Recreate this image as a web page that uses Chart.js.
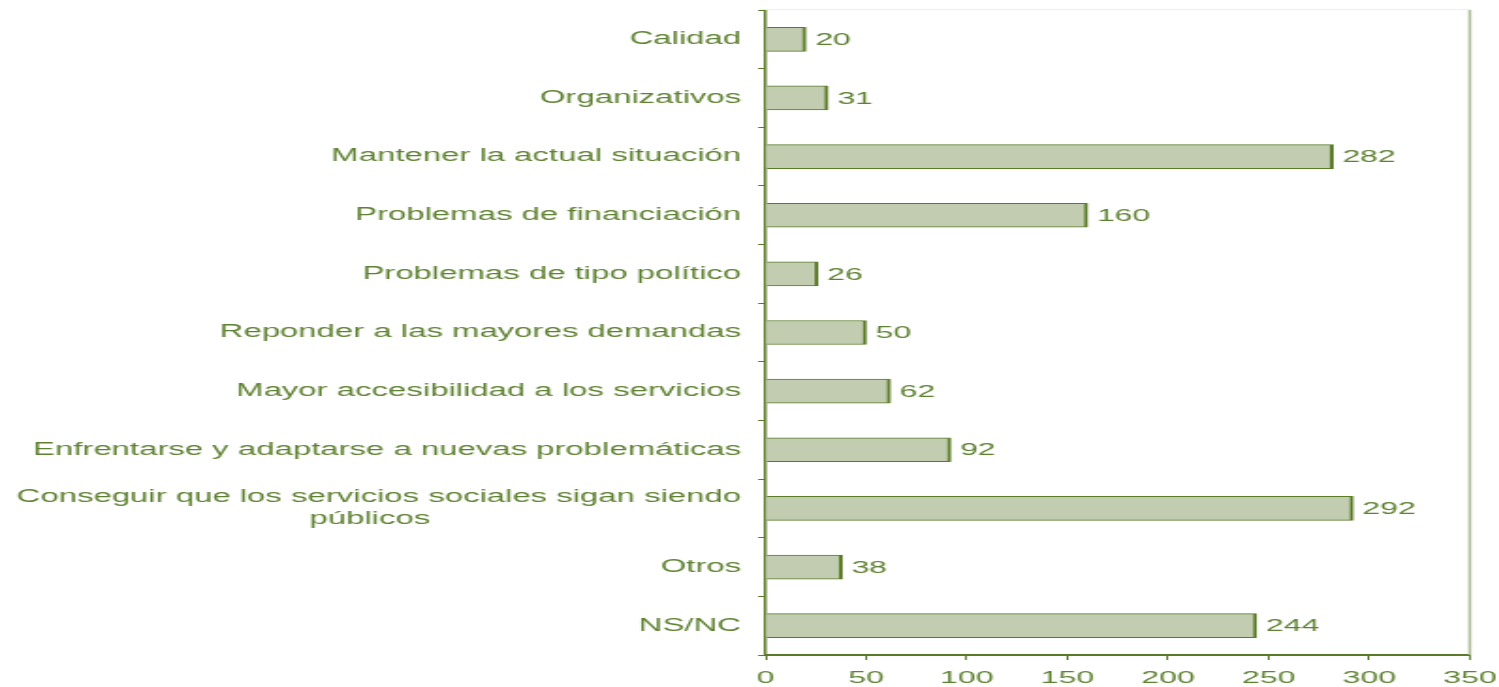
<!DOCTYPE html>
<html>
<head>
<meta charset="utf-8">
<script src="https://cdn.jsdelivr.net/npm/chart.js@4.4.1/dist/chart.umd.min.js"></script>
<style>
  html, body { margin: 0; padding: 0; background: #fff; overflow: hidden; }
  /* the original picture is stretched sideways, so the chart is too */
  #wrap { width: 797px; height: 687px; transform: scaleX(1.881); transform-origin: 0 0; }
</style>
</head>
<body>
<div id="wrap"><canvas id="chart"></canvas></div>
<script>
const categories = [
  "Calidad",
  "Organizativos",
  "Mantener la actual situación",
  "Problemas de financiación",
  "Problemas de tipo político",
  "Reponder a las mayores demandas",
  "Mayor accesibilidad a los servicios",
  "Enfrentarse y adaptarse a nuevas problemáticas",
  ["Conseguir que los servicios sociales sigan siendo", "públicos" + "\u00a0".repeat(34)],
  "Otros",
  "NS/NC"
]
const values = [20, 31, 282, 160, 26, 50, 62, 92, 292, 38, 244]
const xMin = 0
const xMax = 350
const xStep = 50

const textColor = "#5f8232"
const lineColor = "#5b7b27"

// value next to the end of each bar
const valueLabels = {
  id: "valueLabels",
  afterDatasetsDraw(chart) {
    const ctx = chart.ctx
    const meta = chart.getDatasetMeta(0)
    ctx.save()
    ctx.fillStyle = textColor
    ctx.font = "17px 'Liberation Sans', Arial, sans-serif"
    ctx.textAlign = "left"
    ctx.textBaseline = "middle"
    meta.data.forEach((bar, i) => {
      ctx.fillText(values[i], bar.x + 5, bar.y + 1)
    })
    ctx.restore()
  }
}

// light frame line on the right and faint top line
const frame = {
  id: "frame",
  beforeDatasetsDraw(chart) {
    const { ctx, chartArea } = chart
    ctx.save()
    ctx.strokeStyle = "#eeeeea"
    ctx.lineWidth = 1
    ctx.beginPath()
    ctx.moveTo(chartArea.left - 3, chartArea.top - 0.5)
    ctx.lineTo(chartArea.right, chartArea.top - 0.5)
    ctx.stroke()
    ctx.strokeStyle = "#a9b895"
    ctx.lineWidth = 1.5
    ctx.beginPath()
    ctx.moveTo(chartArea.right, chartArea.top)
    ctx.lineTo(chartArea.right, chartArea.bottom)
    ctx.stroke()
    ctx.restore()
  }
}

const ctx = document.getElementById("chart").getContext("2d")

new Chart(ctx, {
  type: "bar",
  data: {
    labels: categories,
    datasets: [
      {
        data: values,
        backgroundColor: "#c1ccb0",
        borderColor: lineColor,
        borderWidth: { top: 1, right: 2, bottom: 1, left: 0 },
        borderSkipped: false,
        barThickness: 24
      }
    ]
  },
  options: {
    indexAxis: "y",
    responsive: true,
    maintainAspectRatio: false,
    animation: false,
    layout: { padding: { top: 10, right: 15.6, bottom: 0, left: 0 } },
    plugins: {
      legend: { display: false },
      tooltip: { enabled: false }
    },
    scales: {
      x: {
        min: xMin,
        max: xMax,
        ticks: {
          stepSize: xStep,
          color: textColor,
          padding: 8,
          maxRotation: 0,
          font: { family: "'Liberation Sans', Arial, sans-serif", size: 17 }
        },
        grid: { drawOnChartArea: false, drawTicks: true, tickLength: 5, color: lineColor, lineWidth: 1 },
        border: { color: lineColor, width: 2 },
        afterFit(scale) {
          scale.height = 32
          scale.paddingLeft = 0
          scale.paddingRight = 0
        }
      },
      y: {
        ticks: {
          color: textColor,
          padding: 9,
          font: { family: "'Liberation Sans', Arial, sans-serif", size: 17.5, lineHeight: 1.26 }
        },
        grid: { drawOnChartArea: false, drawTicks: true, tickLength: 4, color: lineColor, lineWidth: 1 },
        border: { color: lineColor, width: 1.5 },
        afterFit(scale) {
          scale.width = 407
          scale.paddingTop = 0
          scale.paddingBottom = 0
        }
      }
    }
  },
  plugins: [frame, valueLabels]
})
</script>
</body>
</html>
